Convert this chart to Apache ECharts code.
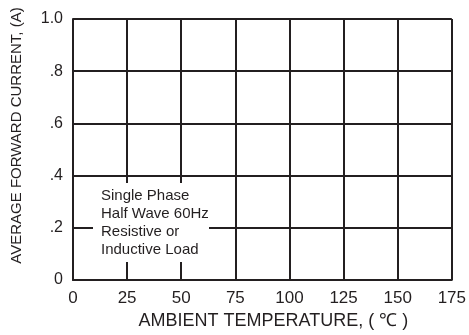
<!DOCTYPE html>
<html>
<head>
<meta charset="utf-8">
<script src="https://cdn.jsdelivr.net/npm/echarts@6/dist/echarts.min.js"></script>
<style>html,body{margin:0;padding:0;background:#fff}#c{width:469px;height:335px}</style>
</head>
<body>
<div id="c"></div>
<script>
const xTicks = [0, 25, 50, 75, 100, 125, 150, 175];
const yTickLabels = ['0', '.2', '.4', '.6', '.8', '1.0'];
const xTitle = 'AMBIENT TEMPERATURE, ( \u2103 )';
const yTitle = 'AVERAGE FORWARD CURRENT, (A)';
const noteLines = ['Single Phase', 'Half Wave 60Hz', 'Resistive or', 'Inductive Load'];
const curve = []; // no curve drawn in reference

const ink = '#231f20';
const chart = echarts.init(document.getElementById('c'), null, {renderer: 'canvas'});
chart.setOption({
  animation: false,
  backgroundColor: '#fff',
  grid: {left: 73, right: 17, top: 19, bottom: 55, containLabel: false},
  xAxis: {
    type: 'value', min: xTicks[0], max: xTicks[xTicks.length - 1], interval: 25,
    axisLine: {show: true, lineStyle: {color: ink, width: 2}},
    axisTick: {show: false},
    splitLine: {show: true, lineStyle: {color: ink, width: 2}},
    axisLabel: {color: ink, fontFamily: 'Liberation Sans, Arial', fontSize: 17, margin: 10},
    name: xTitle, nameLocation: 'middle', nameGap: 31,
    nameTextStyle: {color: ink, fontFamily: 'Liberation Sans, Arial', fontSize: 18, padding: [0, 0, 0, 22]}
  },
  yAxis: {
    type: 'value', min: 0, max: 1, interval: 0.2,
    axisLine: {show: true, lineStyle: {color: ink, width: 2}},
    axisTick: {show: false},
    splitLine: {show: true, lineStyle: {color: ink, width: 2}},
    axisLabel: {color: ink, fontFamily: 'Liberation Sans, Arial', fontSize: 16, margin: 10,
      formatter: v => yTickLabels[Math.round(v / 0.2)]},
    name: yTitle, nameLocation: 'middle', nameGap: 49,
    nameTextStyle: {color: ink, fontFamily: 'Liberation Sans, Arial', fontSize: 15, padding: [0, 0, 0, 28]}
  },
  graphic: [
    {type: 'rect', left: 93, top: 183, z: 100, shape: {width: 116, height: 79}, style: {fill: '#fff'}},
    {type: 'text', left: 101, top: 187, z: 101,
     style: {text: noteLines.join('\n'), fill: ink, font: '15px "Liberation Sans", Arial', lineHeight: 18}}
  ],
  series: [{type: 'line', data: curve, silent: true}]
});
</script>
</body>
</html>
